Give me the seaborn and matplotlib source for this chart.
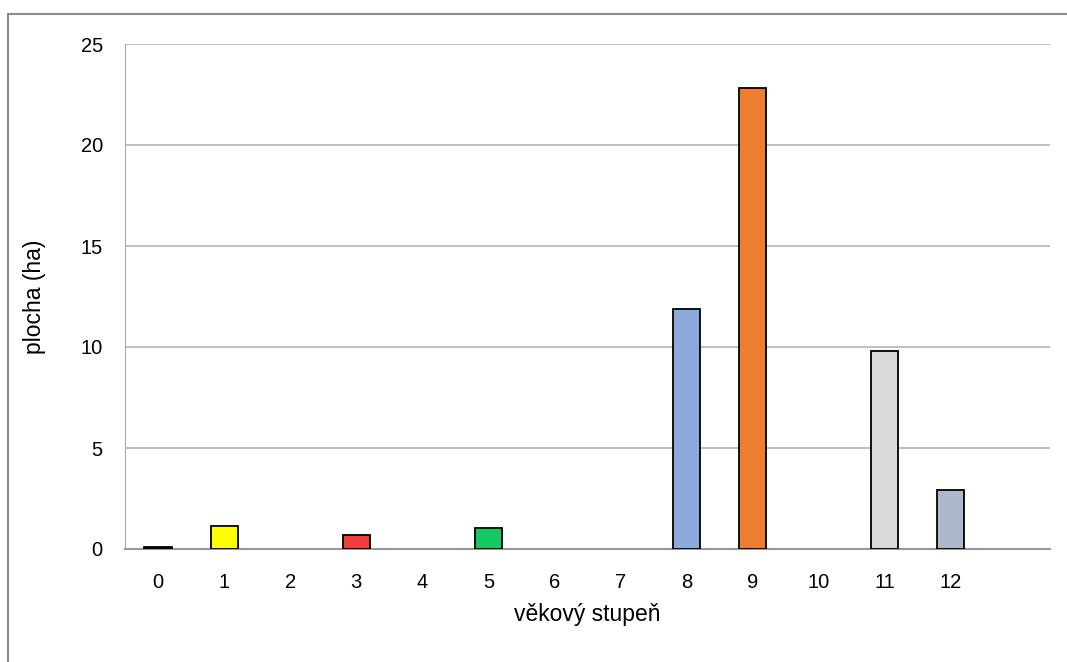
import matplotlib
matplotlib.use("Agg")
import matplotlib.pyplot as plt
import seaborn as sns
import pandas as pd
from matplotlib.patches import Rectangle

# data
stupne = ["0", "1", "2", "3", "4", "5", "6", "7", "8", "9", "10", "11", "12", ""]
plocha = [0.08, 1.15, 0, 0.7, 0, 1.05, 0, 0, 11.9, 22.8, 0, 9.8, 2.9, 0]
barvy = ["#404040", "#FFFF00", "#FFFFFF", "#F03E3E", "#FFFFFF", "#14C864",
         "#FFFFFF", "#FFFFFF", "#8EA9DB", "#ED7D31", "#FFFFFF", "#D9D9D9",
         "#ADB9CA", "#FFFFFF"]

df = pd.DataFrame({"stupen": stupne, "plocha": plocha})

sns.set_style("white")
plt.rcParams["font.family"] = ["Liberation Sans", "DejaVu Sans"]
plt.rcParams["text.color"] = "black"
plt.rcParams["axes.labelcolor"] = "black"
plt.rcParams["xtick.color"] = "black"
plt.rcParams["ytick.color"] = "black"

fig = plt.figure(figsize=(10.67, 6.62), dpi=100)
ax = fig.add_axes([125 / 1067, 113 / 662, 925 / 1067, 505 / 662])

sns.barplot(data=df, x="stupen", y="plocha", hue="stupen", palette=barvy,
            order=stupne, legend=False, width=0.41, edgecolor="black",
            linewidth=1.3, saturation=1, ax=ax, zorder=3)

# zero bars should not leave a line on the axis
for p in ax.patches:
    if p.get_height() == 0:
        p.set_linewidth(0)

ax.set_ylim(0, 25)
ax.set_xlim(-0.5, len(stupne) - 0.5)
ax.set_yticks([0, 5, 10, 15, 20, 25])
ax.yaxis.grid(True, color="#BFBFBF", linewidth=1.4, zorder=0)
ax.set_axisbelow(True)
for s in ["top", "right"]:
    ax.spines[s].set_visible(False)
ax.spines["left"].set_color("#A6A6A6")
ax.spines["bottom"].set_color("#999999")
ax.spines["bottom"].set_linewidth(1.5)
ax.tick_params(axis="both", length=0, labelsize=14.5)
ax.tick_params(axis="x", pad=17)
ax.tick_params(axis="y", pad=16)
ax.set_xlabel("věkový stupeň", fontsize=16.5, labelpad=8)
ax.set_ylabel("plocha (ha)", fontsize=16.5, labelpad=25)

# outer frame of the chart area
fig.patches.append(Rectangle((8 / 1067, -0.05), 1.1, 648 / 662 + 0.05,
                             transform=fig.transFigure, fill=False,
                             edgecolor="#8C8C8C", linewidth=1.5))

fig.savefig("out.png", dpi=100)
